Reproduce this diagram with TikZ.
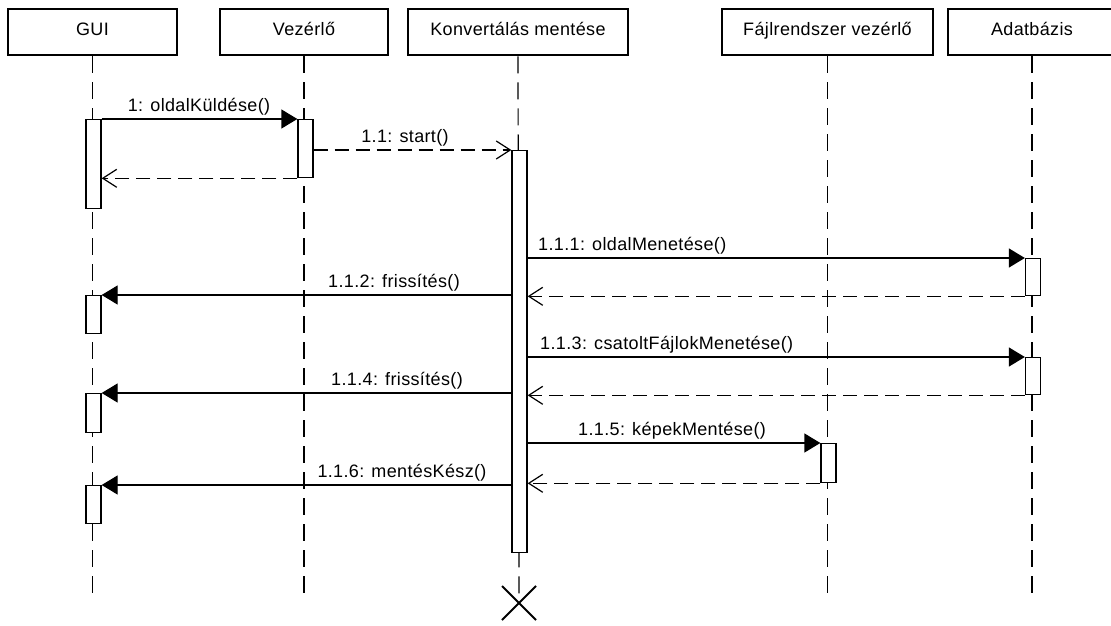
\documentclass[tikz,border=0pt]{standalone}
\usepackage{fontspec}
\setmainfont{Liberation Sans}[LetterSpace=2]
\usetikzlibrary{arrows.meta,shapes.misc}
\newcommand\diagfont{\fontsize{18pt}{21pt}\selectfont}

\begin{document}
\begin{tikzpicture}[x=1pt,y=-1pt, font=\diagfont,
  head/.style={draw, line width=2.4pt, minimum height=46pt, inner sep=0pt,
               text height=13pt, text depth=7pt, anchor=north},
  life/.style={line width=1.2pt, dash pattern=on 17pt off 9pt},
  act/.style={draw, fill=white, line width=1.3pt, minimum width=15pt,
              inner sep=0pt, anchor=north},
  sync/.style={line width=1.3pt, -{Triangle[length=16pt,width=19pt]}},
  ret/.style={line width=1.3pt, dash pattern=on 14pt off 7pt,
              -{Straight Barb[length=14pt,width=18pt,line width=1.2pt]}},
  lbl/.style={inner sep=0pt},
  destroy/.style={cross out, draw, line width=2pt, minimum size=32pt, inner sep=0pt}]

\useasboundingbox (0,0) rectangle (1111,626);
\fill[white] (0,0) rectangle (1111,626);

% participants
\node[head, minimum width=169pt] (gui)  at (92.5,8)  {GUI};
\node[head, minimum width=168pt] (vez)  at (304,8)   {Vezérlő};
\node[head, minimum width=220pt] (konv) at (518,8)   {Konvertálás mentése};
\node[head, minimum width=211pt] (fajl) at (827.5,8) {Fájlrendszer vezérlő};
\node[head, minimum width=168pt] (db)   at (1032,8)  {Adatbázis};

% destruction mark
\node[destroy] (end) at (519,603) {};

% lifelines
\draw[life] (gui.south)  -- ++(0,538);
\draw[life] (vez.south)  -- ++(0,538);
\draw[life] (konv.south) -- (end.center);
\draw[life] (fajl.south) -- ++(0,538);
\draw[life] (db.south)   -- ++(0,538);

% activation bars
\node[act, minimum height=89pt]  (guiA1) at (93.5,119)  {};
\node[act, minimum height=58pt]  (vezA1) at (305.5,119) {};
\node[act, minimum height=402pt] (konvA) at (519.5,150) {};
\node[act, minimum height=37pt]  (dbA1)  at (1033,258)  {};
\node[act, minimum height=38pt]  (guiA2) at (93.5,295)  {};
\node[act, minimum height=37pt]  (dbA2)  at (1033,357)  {};
\node[act, minimum height=39pt]  (guiA3) at (93.5,393)  {};
\node[act, minimum height=39pt]  (fajlA) at (828.5,443) {};
\node[act, minimum height=38pt]  (guiA4) at (93.5,485)  {};

% messages
\draw[sync] (guiA1.north east) -- (vezA1.north west);
\draw[ret]  (vezA1.east |- konvA.north) -- (konvA.north west);
\draw[ret]  (vezA1.south west) -- (guiA1.east |- vezA1.south);
\draw[sync] (konvA.east |- dbA1.north) -- (dbA1.north west);
\draw[ret]  (dbA1.south west) -- (konvA.east |- dbA1.south);
\draw[sync] (konvA.west |- guiA2.north) -- (guiA2.north east);
\draw[sync] (konvA.east |- dbA2.north) -- (dbA2.north west);
\draw[ret]  (dbA2.south west) -- (konvA.east |- dbA2.south);
\draw[sync] (konvA.west |- guiA3.north) -- (guiA3.north east);
\draw[sync] (konvA.east |- fajlA.north) -- (fajlA.north west);
\draw[ret]  (fajlA.south west) -- (konvA.east |- fajlA.south);
\draw[sync] (konvA.west |- guiA4.north) -- (guiA4.north east);

% message labels
\node[lbl] (m1)   at (199,107) {1: oldalKüldése()};
\node[lbl] (m11)  at (405,138) {1.1: start()};
\node[lbl, anchor=west] (m111) at (538,246) {1.1.1: oldalMenetése()};
\node[lbl] (m112) at (394,283) {1.1.2: frissítés()};
\node[lbl, anchor=west] (m113) at (540,345) {1.1.3: csatoltFájlokMenetése()};
\node[lbl] (m114) at (397,381) {1.1.4: frissítés()};
\node[lbl, anchor=west] (m115) at (578,431) {1.1.5: képekMentése()};
\node[lbl] (m116) at (402,473) {1.1.6: mentésKész()};
\end{tikzpicture}
\end{document}
